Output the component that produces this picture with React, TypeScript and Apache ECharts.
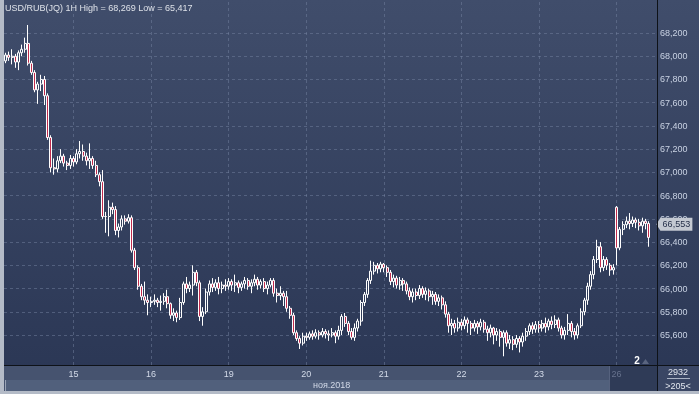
import { useEffect, useRef } from "react";
import * as echarts from "echarts";

const FONT = "'Liberation Sans', Arial, sans-serif";

// trading days shown and number of hourly slots per day
const dayNames = ["14", "15", "16", "19", "20", "21", "22", "23", "26"];
const dayFirstHour = [3, 0, 0, 0, 0, 0, 0, 0, 0];
const daySlots = [21, 24, 24, 24, 24, 24, 24, 24, 13];
const monthLabel = "ноя.2018";
const instrument = "USD/RUB(JQ) 1H";
const yTicks = [65.6, 65.8, 66.0, 66.2, 66.4, 66.6, 66.8, 67.0, 67.2, 67.4, 67.6, 67.8, 68.0, 68.2];
const lastPrice = 66.553;
const statTotal = "2932";
const statVisible = ">205<";
const indicatorText = "2";

// [open, close, low, high]
const day14 = [
  [67.96, 68.01, 67.94, 68.03], [68.01, 67.99, 67.96, 68.04], [67.99, 68.0, 67.93, 68.06],
  [68.0, 67.95, 67.9, 68.02], [67.95, 68.03, 67.88, 68.05], [68.03, 68.06, 68.0, 68.1],
  [68.06, 68.11, 68.03, 68.16], [68.11, 67.94, 67.92, 68.269], [67.94, 67.86, 67.84, 67.96],
  [67.86, 67.71, 67.69, 67.88], [67.71, 67.76, 67.59, 67.78], [67.76, 67.8, 67.7, 67.84],
  [67.8, 67.66, 67.58, 67.83], [67.66, 67.3, 67.28, 67.68], [67.3, 67.04, 67.0, 67.32],
  [67.04, 67.03, 66.98, 67.12], [67.03, 67.1, 67.0, 67.14], [67.1, 67.14, 67.08, 67.2],
  [67.14, 67.08, 67.05, 67.16], [67.08, 67.06, 67.02, 67.1], [67.06, 67.12, 67.03, 67.15],
];
const day15 = [
  [67.12, 67.09, 67.05, 67.14], [67.09, 67.16, 67.07, 67.2], [67.16, 67.18, 67.12, 67.27],
  [67.18, 67.14, 67.1, 67.24], [67.14, 67.1, 67.06, 67.17], [67.1, 67.12, 67.03, 67.25],
  [67.12, 67.06, 67.03, 67.14], [67.06, 66.98, 66.96, 67.1], [66.98, 66.92, 66.88, 67.0],
  [66.92, 66.62, 66.6, 67.02], [66.62, 66.62, 66.48, 66.66], [66.62, 66.7, 66.45, 66.76],
  [66.7, 66.68, 66.64, 66.74], [66.68, 66.5, 66.46, 66.71], [66.5, 66.53, 66.44, 66.56],
  [66.53, 66.6, 66.5, 66.63], [66.6, 66.58, 66.55, 66.63], [66.58, 66.61, 66.56, 66.64],
  [66.61, 66.33, 66.31, 66.63], [66.33, 66.18, 66.16, 66.35], [66.18, 66.02, 65.99, 66.2],
  [66.02, 65.93, 65.9, 66.04], [65.93, 65.9, 65.86, 66.06], [65.9, 65.88, 65.77, 65.95],
];
const day16 = [
  [65.88, 65.89, 65.84, 65.93], [65.89, 65.9, 65.86, 65.95], [65.9, 65.88, 65.84, 65.92],
  [65.88, 65.89, 65.81, 65.94], [65.89, 65.93, 65.86, 65.96], [65.93, 65.87, 65.83, 65.99],
  [65.87, 65.77, 65.74, 65.88], [65.77, 65.79, 65.72, 65.83], [65.79, 65.75, 65.71, 65.81],
  [65.75, 65.88, 65.73, 65.92], [65.88, 66.04, 65.86, 66.06], [66.04, 66.0, 65.96, 66.1],
  [66.0, 66.03, 65.97, 66.06], [66.03, 66.14, 65.94, 66.2], [66.14, 66.05, 66.02, 66.16],
  [66.05, 65.76, 65.72, 66.07], [65.76, 65.8, 65.68, 65.84], [65.8, 65.97, 65.78, 66.0],
  [65.97, 66.04, 65.94, 66.07], [66.04, 66.01, 65.97, 66.09], [66.01, 66.05, 65.98, 66.08],
  [66.05, 66.0, 65.95, 66.1], [66.0, 66.03, 65.96, 66.06], [66.03, 66.02, 65.98, 66.08],
];
const day19 = [
  [66.02, 66.06, 65.99, 66.09], [66.06, 66.03, 65.98, 66.08], [66.03, 66.05, 65.97, 66.12],
  [66.05, 66.01, 65.96, 66.07], [66.01, 66.04, 65.98, 66.06], [66.04, 66.07, 66.0, 66.1],
  [66.07, 66.02, 65.99, 66.09], [66.02, 66.05, 65.96, 66.08], [66.05, 66.08, 66.02, 66.12],
  [66.08, 66.03, 65.99, 66.1], [66.03, 66.06, 66.0, 66.08], [66.06, 66.0, 65.97, 66.09],
  [66.0, 66.03, 65.95, 66.06], [66.03, 66.07, 66.01, 66.09], [66.07, 65.96, 65.93, 66.09],
  [65.96, 65.94, 65.88, 66.0], [65.94, 65.96, 65.9, 66.02], [65.96, 65.93, 65.85, 65.98],
  [65.93, 65.83, 65.8, 65.98], [65.83, 65.77, 65.74, 65.85], [65.77, 65.62, 65.6, 65.79],
  [65.62, 65.57, 65.55, 65.64], [65.57, 65.53, 65.48, 65.59], [65.53, 65.59, 65.51, 65.62],
];
const day20 = [
  [65.59, 65.58, 65.55, 65.62], [65.58, 65.61, 65.56, 65.63], [65.61, 65.59, 65.56, 65.64],
  [65.59, 65.62, 65.57, 65.65], [65.62, 65.6, 65.56, 65.64], [65.6, 65.63, 65.58, 65.66],
  [65.63, 65.61, 65.57, 65.65], [65.61, 65.6, 65.55, 65.64], [65.6, 65.62, 65.58, 65.66],
  [65.62, 65.59, 65.53, 65.64], [65.59, 65.64, 65.56, 65.68], [65.64, 65.76, 65.6, 65.78],
  [65.76, 65.7, 65.67, 65.79], [65.7, 65.63, 65.6, 65.72], [65.63, 65.58, 65.56, 65.66],
  [65.58, 65.66, 65.55, 65.7], [65.66, 65.72, 65.63, 65.74], [65.72, 65.88, 65.68, 65.9],
  [65.88, 65.95, 65.85, 65.97], [65.95, 66.07, 65.92, 66.09], [66.07, 66.15, 66.04, 66.24],
  [66.15, 66.2, 66.12, 66.23], [66.2, 66.17, 66.13, 66.22], [66.17, 66.21, 66.14, 66.23],
];
const day21 = [
  [66.21, 66.18, 66.14, 66.22], [66.18, 66.14, 66.1, 66.2], [66.14, 66.06, 66.03, 66.16],
  [66.06, 66.09, 66.01, 66.12], [66.09, 66.03, 66.0, 66.11], [66.03, 66.07, 65.99, 66.1],
  [66.07, 66.04, 65.98, 66.09], [66.04, 65.98, 65.95, 66.06], [65.98, 65.93, 65.9, 66.01],
  [65.93, 65.97, 65.88, 66.0], [65.97, 65.94, 65.9, 66.0], [65.94, 66.0, 65.91, 66.03],
  [66.0, 65.95, 65.92, 66.02], [65.95, 65.98, 65.9, 66.01], [65.98, 65.93, 65.89, 66.0],
  [65.93, 65.95, 65.86, 65.98], [65.95, 65.89, 65.86, 65.97], [65.89, 65.92, 65.85, 65.95],
  [65.92, 65.86, 65.82, 65.94], [65.86, 65.78, 65.75, 65.89], [65.78, 65.68, 65.62, 65.8],
  [65.68, 65.7, 65.6, 65.74], [65.7, 65.66, 65.62, 65.73], [65.66, 65.71, 65.63, 65.75],
];
const day22 = [
  [65.71, 65.68, 65.64, 65.74], [65.68, 65.73, 65.65, 65.76], [65.73, 65.7, 65.62, 65.75],
  [65.7, 65.66, 65.6, 65.72], [65.66, 65.7, 65.63, 65.73], [65.7, 65.67, 65.61, 65.72],
  [65.67, 65.71, 65.64, 65.74], [65.71, 65.65, 65.62, 65.73], [65.65, 65.62, 65.55, 65.68],
  [65.62, 65.66, 65.58, 65.69], [65.66, 65.6, 65.52, 65.67], [65.6, 65.63, 65.55, 65.66],
  [65.63, 65.58, 65.5, 65.65], [65.58, 65.62, 65.417, 65.64], [65.62, 65.53, 65.5, 65.64],
  [65.53, 65.56, 65.48, 65.6], [65.56, 65.52, 65.47, 65.59], [65.52, 65.57, 65.49, 65.6],
  [65.57, 65.54, 65.45, 65.59], [65.54, 65.59, 65.5, 65.62], [65.59, 65.63, 65.55, 65.66],
  [65.63, 65.68, 65.6, 65.7], [65.68, 65.65, 65.61, 65.71], [65.65, 65.69, 65.62, 65.72],
];
const day23 = [
  [65.69, 65.66, 65.62, 65.72], [65.66, 65.7, 65.63, 65.73], [65.7, 65.67, 65.62, 65.75],
  [65.67, 65.72, 65.64, 65.74], [65.72, 65.69, 65.65, 65.76], [65.69, 65.73, 65.66, 65.77],
  [65.73, 65.66, 65.63, 65.75], [65.66, 65.6, 65.57, 65.68], [65.6, 65.64, 65.56, 65.67],
  [65.64, 65.7, 65.6, 65.78], [65.7, 65.63, 65.58, 65.72], [65.63, 65.6, 65.56, 65.66],
  [65.6, 65.68, 65.57, 65.7], [65.68, 65.8, 65.66, 65.83], [65.8, 65.9, 65.77, 65.92],
  [65.9, 66.02, 65.86, 66.05], [66.02, 66.12, 65.99, 66.15], [66.12, 66.25, 66.08, 66.28],
  [66.25, 66.36, 66.22, 66.42], [66.36, 66.18, 66.14, 66.4], [66.18, 66.25, 66.15, 66.28],
  [66.25, 66.2, 66.16, 66.27], [66.2, 66.16, 66.11, 66.22], [66.16, 66.18, 66.12, 66.21],
];
const day26 = [
  [66.7, 66.35, 66.2, 66.71], [66.35, 66.51, 66.33, 66.53], [66.51, 66.55, 66.46, 66.58],
  [66.55, 66.58, 66.52, 66.62], [66.58, 66.56, 66.51, 66.65], [66.56, 66.59, 66.53, 66.62],
  [66.59, 66.57, 66.52, 66.61], [66.57, 66.54, 66.5, 66.6], [66.54, 66.58, 66.48, 66.61],
  [66.58, 66.56, 66.51, 66.6], [66.56, 66.44, 66.36, 66.58],
];

const candles = [...day14, ...day15, ...day16, ...day19, ...day20, ...day21, ...day22, ...day23, ...day26];

const categories: string[] = [];
dayNames.forEach((d, k) => {
  for (let h = 0; h < daySlots[k]; h++) {
    categories.push(`${d} ${String(dayFirstHour[k] + h).padStart(2, "0")}:00`);
  }
});

const fmt = (v: number) => v.toFixed(3).replace(".", ",");

const Y_MIN = 65.342;
const Y_MAX = 68.484;

export default function App() {
  const ref = useRef<HTMLDivElement>(null);

  useEffect(() => {
    if (!ref.current) return;
    const chart = echarts.init(ref.current, undefined, { renderer: "svg" });

    const highAll = Math.max(...candles.map((c) => c[3]));
    const lowAll = Math.min(...candles.map((c) => c[2]));

    const dayStartIdx: number[] = [];
    categories.forEach((c, i) => {
      if (c.endsWith(" 00:00")) dayStartIdx.push(i);
    });

    const gridColor = "rgba(115,129,160,0.5)";
    const hLines = yTicks.map((v) => ({
      yAxis: v,
      label: {
        show: true,
        position: "end",
        distance: 3,
        formatter: fmt(v),
        color: "#c9d2e3",
        fontSize: 9,
        fontFamily: FONT,
      },
    }));
    const vLines = dayStartIdx.map((i) => ({ xAxis: i, label: { show: false } }));

    const lastDay = dayNames[dayNames.length - 1];

    const option: any = {
      animation: false,
      textStyle: { fontFamily: FONT },
      grid: { left: 4, right: 42, top: 0, bottom: 29 },
      xAxis: {
        type: "category",
        data: categories,
        boundaryGap: true,
        z: 5,
        axisLine: { show: false },
        axisTick: { show: false },
        splitLine: { show: false },
        axisLabel: {
          interval: (_i: number, v: string) => v.endsWith(" 00:00"),
          formatter: (v: string) => {
            const d = v.split(" ")[0];
            return d === lastDay ? `{dim|${d}}` : d;
          },
          color: "#d3dae8",
          fontSize: 9,
          fontFamily: FONT,
          margin: 4,
          rich: { dim: { color: "#67728d", fontSize: 9, fontFamily: FONT } },
        },
      },
      yAxis: {
        type: "value",
        position: "right",
        min: Y_MIN,
        max: Y_MAX,
        axisLine: { show: false },
        axisTick: { show: false },
        axisLabel: { show: false },
        splitLine: { show: false },
      },
      series: [
        {
          type: "candlestick",
          data: candles,
          barWidth: 2.5,
          z: 3,
          itemStyle: {
            color: "rgba(0,0,0,0)",
            color0: "#c02a4c",
            borderColor: "#ffffff",
            borderColor0: "#ffffff",
            borderWidth: 1,
          },
          markLine: {
            silent: true,
            animation: false,
            z: 1,
            symbol: ["none", "none"],
            lineStyle: { color: gridColor, type: [3, 3], width: 1 },
            data: [...hLines, ...vLines],
          },
          markPoint: {
            silent: true,
            animation: false,
            z: 12,
            symbol: "path://M0,6 L4,0 L36,0 L36,12 L4,12 Z",
            symbolSize: [36, 13],
            symbolOffset: [19, 0],
            itemStyle: { color: "#c4c9d2" },
            label: {
              show: true,
              formatter: fmt(lastPrice),
              color: "#26304a",
              fontSize: 9,
              fontFamily: FONT,
              offset: [2, 0],
            },
            data: [{ coord: [categories.length - 1, lastPrice], value: lastPrice }],
          },
        },
      ],
      graphic: [
        {
          type: "rect",
          z: -20,
          silent: true,
          shape: { x: 0, y: 0, width: 699, height: 394 },
          style: {
            fill: {
              type: "linear", x: 0, y: 0, x2: 0, y2: 1,
              colorStops: [
                { offset: 0, color: "#404d6b" },
                { offset: 1, color: "#2a3654" },
              ],
            },
          },
        },
        { type: "rect", z: -10, silent: true, shape: { x: 4, y: 366, width: 653, height: 25 }, style: { fill: "#46536f" } },
        { type: "rect", z: -9, silent: true, shape: { x: 5, y: 380, width: 604, height: 11 }, style: { fill: "#51607c" } },
        { type: "rect", z: -8, silent: true, shape: { x: 5, y: 380, width: 1, height: 11 }, style: { fill: "#9aa4b6" } },
        { type: "rect", z: -9, silent: true, shape: { x: 609, y: 366, width: 48, height: 25 }, style: { fill: "#2f3b57" } },
        { type: "rect", z: -8, silent: true, shape: { x: 609, y: 366, width: 1, height: 25 }, style: { fill: "#56627e" } },
        { type: "rect", z: -9, silent: true, shape: { x: 658, y: 366, width: 41, height: 25 }, style: { fill: "#3a4664" } },
        { type: "rect", z: 20, silent: true, shape: { x: 0, y: 0, width: 4, height: 394 }, style: { fill: "#b4bbc7" } },
        { type: "rect", z: 20, silent: true, shape: { x: 0, y: 391, width: 699, height: 3 }, style: { fill: "#b4bbc7" } },
        { type: "line", z: 20, silent: true, shape: { x1: 4, y1: 365.5, x2: 699, y2: 365.5 }, style: { stroke: "#0e1218", lineWidth: 1 } },
        { type: "line", z: 20, silent: true, shape: { x1: 657.5, y1: 0, x2: 657.5, y2: 391 }, style: { stroke: "#0e1218", lineWidth: 1 } },
        {
          type: "text", z: 20, silent: true, x: 5, y: 8,
          style: {
            text: `${instrument} High = ${fmt(highAll)} Low = ${fmt(lowAll)}`,
            fill: "#dde1e8", fontSize: 9, fontFamily: FONT, verticalAlign: "middle", align: "left",
          },
        },
        {
          type: "text", z: 20, silent: true, x: 313, y: 385,
          style: { text: monthLabel, fill: "#d3dae8", fontSize: 9, fontFamily: FONT, verticalAlign: "middle", align: "left" },
        },
        {
          type: "text", z: 20, silent: true, x: 678, y: 372,
          style: { text: statTotal, fill: "#e2e6ee", fontSize: 9, fontFamily: FONT, verticalAlign: "middle", align: "center" },
        },
        { type: "line", z: 20, silent: true, shape: { x1: 667, y1: 378.5, x2: 690, y2: 378.5 }, style: { stroke: "#aab3c4", lineWidth: 1 } },
        {
          type: "text", z: 20, silent: true, x: 678, y: 386,
          style: { text: statVisible, fill: "#e2e6ee", fontSize: 9, fontFamily: FONT, verticalAlign: "middle", align: "center" },
        },
        {
          type: "text", z: 20, silent: true, x: 637, y: 360,
          style: { text: indicatorText, fill: "#ffffff", fontSize: 10, fontWeight: "bold", fontFamily: FONT, verticalAlign: "middle", align: "center" },
        },
        {
          type: "polygon", z: 19, silent: true,
          shape: { points: [[642, 364], [645.5, 359], [649, 364]] },
          style: { fill: "#5a6580" },
        },
      ],
    };

    chart.setOption(option);
    return () => chart.dispose();
  }, []);

  return (
    <div
      ref={ref}
      style={{ position: "fixed", left: 0, top: 0, width: 699, height: 394 }}
    />
  );
}
